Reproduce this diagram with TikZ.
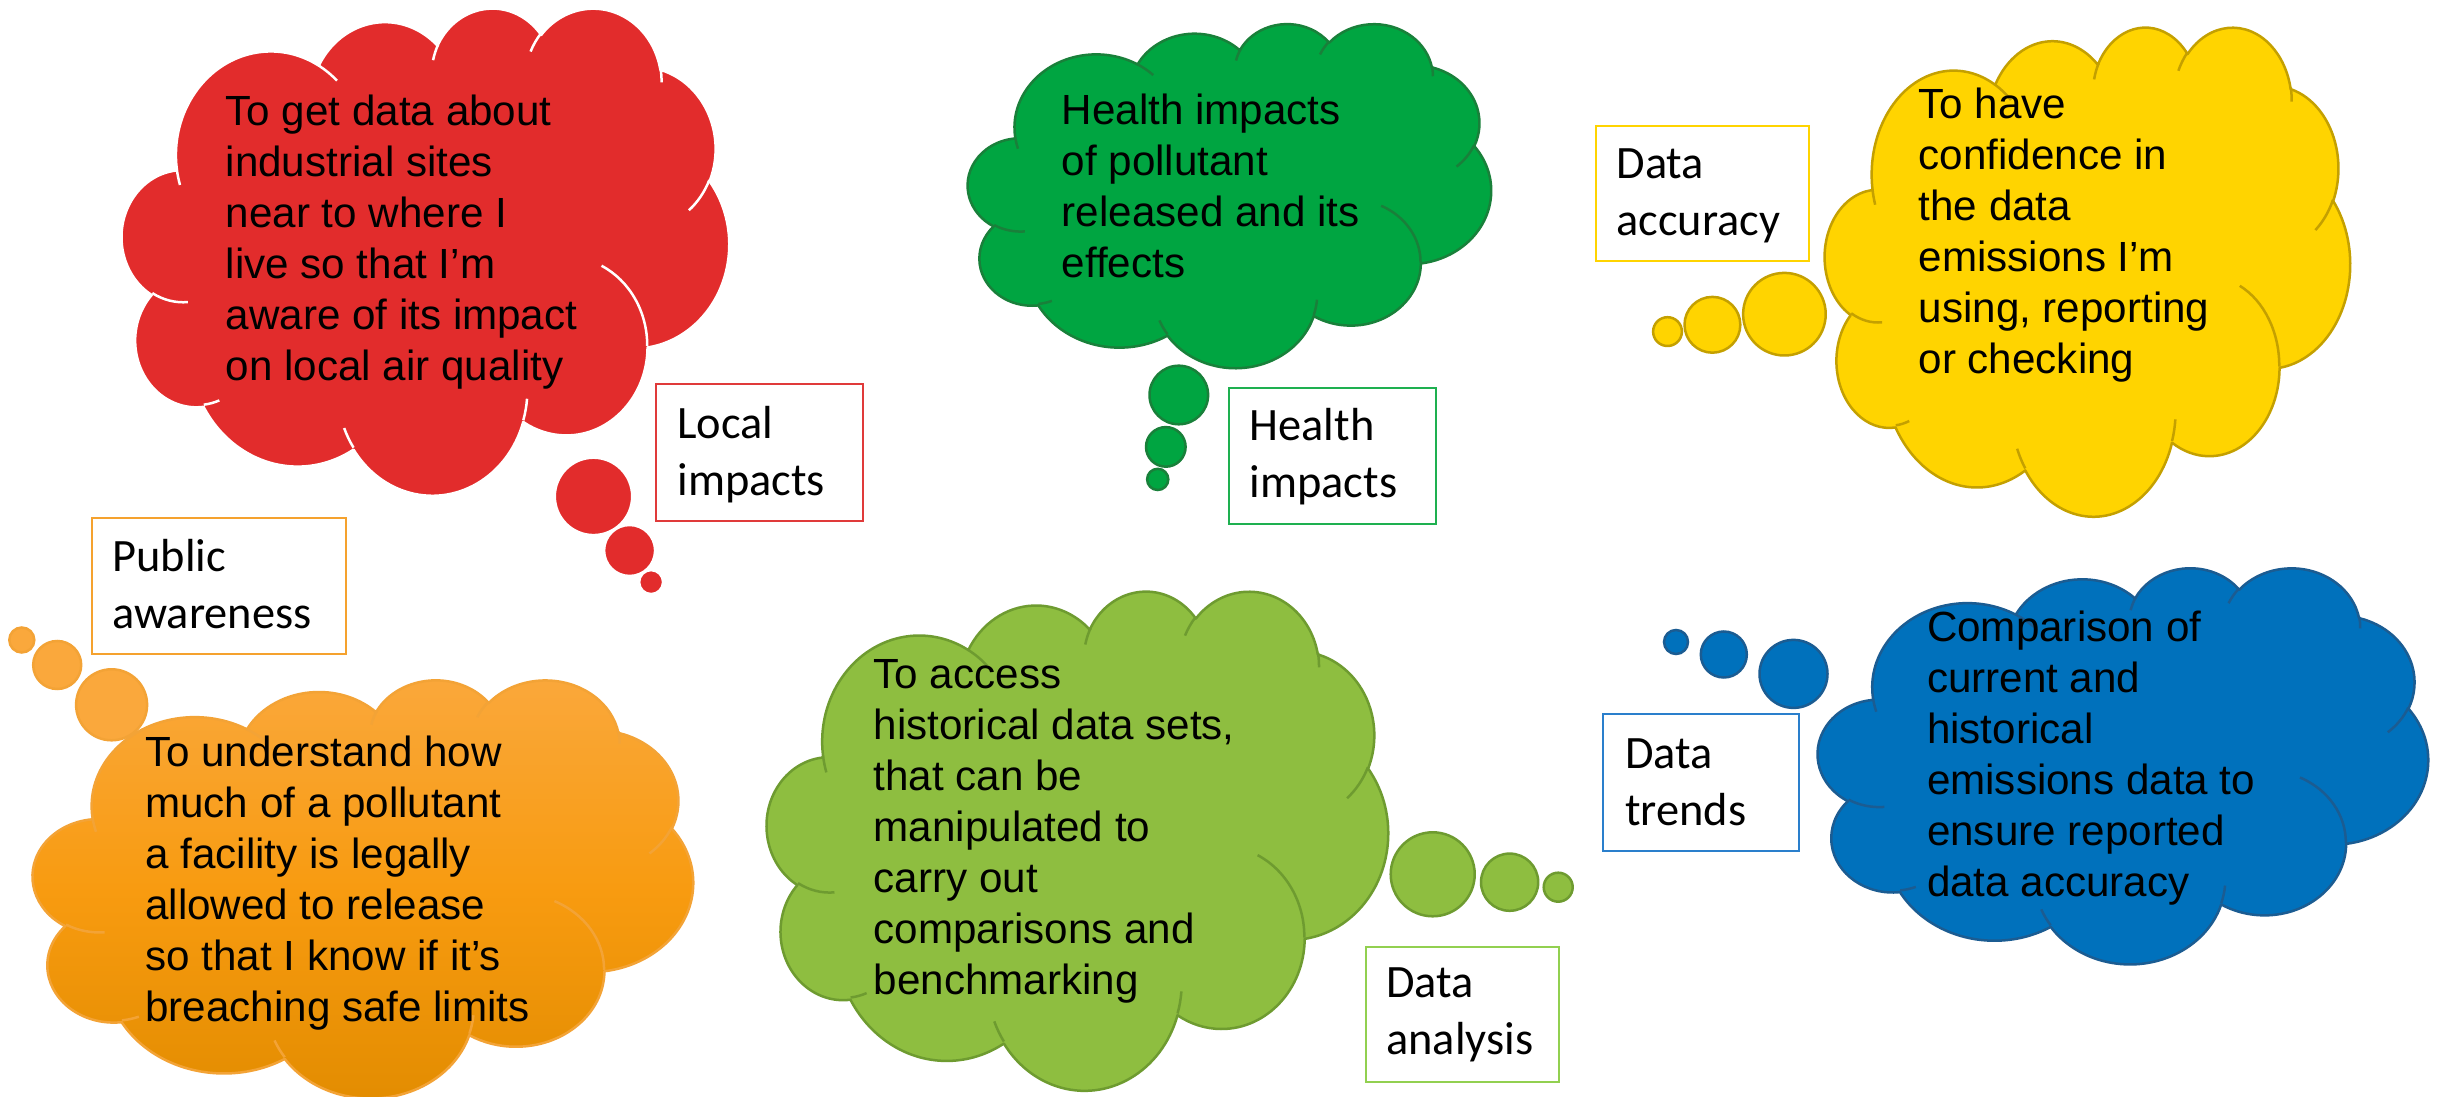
\documentclass[tikz,border=0pt]{standalone}
\usepackage{fontspec}
\setmainfont{Liberation Sans}
\newfontfamily\lblfont{Carlito}
\definecolor{redF}{HTML}{E22C2C}
\definecolor{greenF}{HTML}{00A541}
\definecolor{greenD}{HTML}{19803A}
\definecolor{yellowF}{HTML}{FFD400}
\definecolor{yellowD}{HTML}{C4A000}
\definecolor{orangeT}{HTML}{FAA83C}
\definecolor{orangeM}{HTML}{F89B10}
\definecolor{orangeB}{HTML}{E28C00}
\definecolor{orangeD}{HTML}{F3A336}
\definecolor{lgreenF}{HTML}{8EBE40}
\definecolor{lgreenD}{HTML}{6E9B30}
\definecolor{blueF}{HTML}{0071BC}
\definecolor{blueD}{HTML}{1B5C92}
\definecolor{boxRed}{HTML}{E03A3A}
\definecolor{boxGreen}{HTML}{1EB050}
\definecolor{boxYellow}{HTML}{FFD400}
\definecolor{boxOrange}{HTML}{F5A22E}
\definecolor{boxLGreen}{HTML}{92D050}
\definecolor{boxBlue}{HTML}{2A7FCC}

% elliptical arc given OOXML visual angles
\newcommand\mkarc[4]{%
  \pgfmathsetmacro\tA{atan2((#1)*sin(#3),(#2)*cos(#3))}%
  \pgfmathsetmacro\tB{atan2((#1)*sin((#3)+(#4)),(#2)*cos((#3)+(#4)))}%
  \pgfmathsetmacro\dT{mod(\tB-(\tA)+720,360)}%
  \xdef\cloudtmp{\cloudtmp\space arc[x radius=#1,y radius=#2,start angle=\tA,delta angle=\dT]}%
}
\newcommand\mkmove[1]{\xdef\cloudtmp{\cloudtmp\space(#1)}}

\newcommand\cloudshape[6]{% x0 y0 w h fillstyle linecolor
  \begin{scope}[shift={(#1,#2)},xscale=#3/43.2,yscale=#4/43.2]
    \path[#5,draw=#6,line width=0.25mm,line join=round] \cloudouter;
    \path[draw=#6,line width=0.25mm] \cloudinner;
  \end{scope}}

\tikzset{
  ctext/.style={anchor=base west,inner sep=0pt,font=\fontsize{12}{14.5}\selectfont},
  ltext/.style={anchor=base west,inner sep=0pt,font=\lblfont\fontsize{13.2}{16.2}\selectfont},
  lbox/.style={draw=#1,line width=0.2mm,fill=white,rectangle,inner sep=0pt,anchor=north west},
}
\newcommand\ctxt[1]{\parbox[t]{120mm}{\raggedright #1}}

\begin{document}
\begin{tikzpicture}[x=0.1mm,y=-0.1mm]
% ---- build the cloud outline (OOXML cloud, 43.2 x 43.2 units)
\gdef\cloudtmp{(3.900,14.370)}
\mkarc{6.753}{9.190}{-190.4875}{123.7805}
\mkarc{5.333}{7.267}{-144.1024}{89.9452}
\mkarc{4.365}{5.945}{-145.8079}{99.7230}
\mkarc{4.857}{6.595}{-130.9861}{117.2417}
\mkarc{5.333}{7.273}{-78.7089}{109.0269}
\mkarc{6.775}{9.220}{-46.2673}{130.2690}
\mkarc{5.785}{7.867}{0.6250}{114.0333}
\mkarc{6.752}{9.215}{22.4516}{115.1726}
\mkarc{7.720}{10.543}{66.2426}{75.7110}
\mkarc{4.360}{5.918}{-274.9421}{146.7356}
\mkarc{4.345}{5.945}{-246.8285}{152.5189}
\xdef\cloudouter{\cloudtmp\space -- cycle}
\gdef\cloudtmp{}
\mkmove{4.693,26.177}\mkarc{4.345}{5.945}{86.742}{26.4295}
\mkmove{6.928,34.899}\mkarc{4.360}{5.918}{73.6105}{11.4475}
\mkmove{16.478,39.090}\mkarc{6.752}{9.215}{137.6242}{14.0811}
\mkmove{28.827,34.751}\mkarc{6.752}{9.215}{6.4533}{15.9984}
\mkmove{34.129,22.954}\mkarc{5.785}{7.867}{-70.2924}{70.9174}
\mkmove{41.798,15.354}\mkarc{5.333}{7.273}{30.3180}{27.7515}
\mkmove{38.324,5.426}\mkarc{4.857}{6.595}{-13.7443}{14.8589}
\mkmove{29.078,3.952}\mkarc{4.857}{6.595}{-149.1815}{18.1954}
\mkmove{22.141,4.720}\mkarc{4.365}{5.945}{-163.4943}{17.6864}
\mkmove{14.000,5.192}\mkarc{6.753}{9.190}{-66.7070}{12.3194}
\mkmove{4.127,15.789}\mkarc{6.753}{9.190}{157.6544}{11.8616}
\xdef\cloudinner{\cloudtmp}

\useasboundingbox (0,0) rectangle (2437,1097);
\fill[white] (0,0) rectangle (2437,1097);

% ---------------- red: local impacts
\cloudshape{122}{7}{607}{487}{fill=redF}{white}
\path[fill=redF,draw=white,line width=0.25mm] (593.5,496.4) circle[radius=38.7];
\path[fill=redF,draw=white,line width=0.25mm] (629.6,550.5) circle[radius=25.5];
\path[fill=redF,draw=white,line width=0.25mm] (651.1,582.1) circle[radius=12];
\node[ctext] (tRed) at (225,125.5) {\ctxt{To get data about\\industrial sites\\near to where I\\live so that I’m\\aware of its impact\\on local air quality}};
\node[lbox=boxRed,minimum width=207*0.1mm,minimum height=137*0.1mm] (bLocal) at (655,383) {};
\node[ltext] (lLocal) at (676.8,438.2) {\ctxt{Local\\impacts}};

% ---------------- green: health impacts
\cloudshape{968}{23}{523}{344}{fill=greenF}{greenD}
\path[fill=greenF,draw=greenD,line width=0.25mm] (1178.8,395) circle[radius=29.3];
\path[fill=greenF,draw=greenD,line width=0.25mm] (1165.8,446.9) circle[radius=19.8];
\path[fill=greenF,draw=greenD,line width=0.25mm] (1157.7,479.4) circle[radius=10.6];
\node[ctext] (tGreen) at (1061,124.7) {\ctxt{Health impacts\\of pollutant\\released and its\\effects}};
\node[lbox=boxGreen,minimum width=207.4*0.1mm,minimum height=136.1*0.1mm] (bHealth) at (1227.6,387.4) {};
\node[ltext] (lHealth) at (1249,440.8) {\ctxt{Health\\impacts}};

% ---------------- yellow: data accuracy
\cloudshape{1825}{26}{525}{489}{fill=yellowF}{yellowD}
\path[fill=yellowF,draw=yellowD,line width=0.25mm] (1784.4,314.2) circle[radius=41.3];
\path[fill=yellowF,draw=yellowD,line width=0.25mm] (1712.4,324.8) circle[radius=27.9];
\path[fill=yellowF,draw=yellowD,line width=0.25mm] (1667.5,331.6) circle[radius=14.4];
\node[ctext] (tYellow) at (1918,118.5) {\ctxt{To have\\confidence in\\the data\\emissions I’m\\using, reporting\\or checking}};
\node[lbox=boxYellow,minimum width=213*0.1mm,minimum height=135.3*0.1mm] (bAcc) at (1595,125) {};
\node[ltext] (lAcc) at (1615.8,178.1) {\ctxt{Data\\accuracy}};

% ---------------- orange: public awareness
\cloudshape{33}{679}{660}{418}{top color=orangeT,bottom color=orangeB,middle color=orangeM}{orangeD}
\path[fill=orangeT,draw=orangeD,line width=0.25mm] (111.6,704.8) circle[radius=35.5];
\path[fill=orangeT,draw=orangeD,line width=0.25mm] (57.2,665) circle[radius=24];
\path[fill=orangeT,draw=orangeD,line width=0.25mm] (21.8,640) circle[radius=12.5];
\node[ctext] (tOrange) at (144.6,766.3) {\ctxt{To understand how\\much of a pollutant\\a facility is legally\\allowed to release\\so that I know if it’s\\breaching safe limits}};
\node[lbox=boxOrange,minimum width=254.8*0.1mm,minimum height=136.2*0.1mm] (bPublic) at (90.5,516.8) {};
\node[ltext] (lPublic) at (111.6,571.6) {\ctxt{Public\\awareness}};

% ---------------- light green: data analysis
\cloudshape{767}{590}{621}{499}{fill=lgreenF}{lgreenD}
\path[fill=lgreenF,draw=lgreenD,line width=0.25mm] (1432.7,874.3) circle[radius=42];
\path[fill=lgreenF,draw=lgreenD,line width=0.25mm] (1509.6,882.2) circle[radius=28.6];
\path[fill=lgreenF,draw=lgreenD,line width=0.25mm] (1558.2,887.2) circle[radius=14.5];
\node[ctext] (tLGreen) at (873,688.8) {\ctxt{To access\\historical data sets,\\that can be\\manipulated to\\carry out\\comparisons and\\benchmarking}};
\node[lbox=boxLGreen,minimum width=193*0.1mm,minimum height=135*0.1mm] (bAnalysis) at (1365,946) {};
\node[ltext] (lAnalysis) at (1385.5,998) {\ctxt{Data\\analysis}};

% ---------------- blue: data trends
\cloudshape{1818}{567}{610}{396}{fill=blueF}{blueD}
\path[fill=blueF,draw=blueD,line width=0.25mm] (1793.5,673.9) circle[radius=34];
\path[fill=blueF,draw=blueD,line width=0.25mm] (1723.8,654.5) circle[radius=23];
\path[fill=blueF,draw=blueD,line width=0.25mm] (1676,642) circle[radius=12];
\node[ctext] (tBlue) at (1926.3,641.7) {\ctxt{Comparison of\\current and\\historical\\emissions data to\\ensure reported\\data accuracy}};
\node[lbox=boxBlue,minimum width=195.8*0.1mm,minimum height=136.7*0.1mm] (bTrends) at (1602.4,713.4) {};
\node[ltext] (lTrends) at (1624.5,768.4) {\ctxt{Data\\trends}};
\end{tikzpicture}
\end{document}
